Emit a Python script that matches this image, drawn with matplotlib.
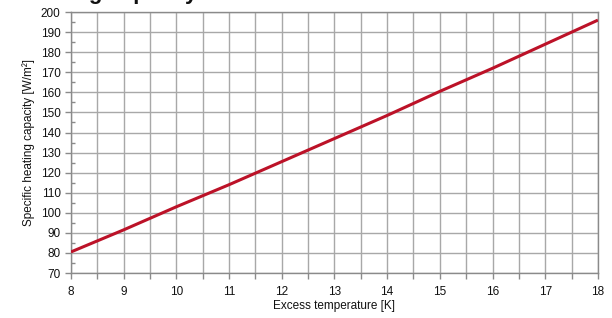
import numpy as np
import matplotlib
matplotlib.use("Agg")
import matplotlib.pyplot as plt
from matplotlib.ticker import MultipleLocator

plt.rcParams['font.family'] = ['Liberation Sans', 'DejaVu Sans']

# values
excess_temp = [8, 9, 10, 11, 12, 13, 14, 15, 16, 17, 18]
heating_capacity = [80.5, 91.5, 103, 114, 125.5, 137, 148.5, 160.5, 172, 184, 196]

title = "Heating capacity"
x_label = "Excess temperature [K]"
y_label = "Specific heating capacity [W/m²]"

fig = plt.figure(figsize=(6.12, 3.18), dpi=100)
ax = fig.add_axes([0.116, 0.1415, 0.861, 0.8205])

ax.plot(excess_temp, heating_capacity, color="#bc1228", lw=2.2, solid_capstyle="butt", zorder=3)

ax.set_xlim(8, 18)
ax.set_ylim(70, 200)
ax.xaxis.set_major_locator(MultipleLocator(1))
ax.xaxis.set_minor_locator(MultipleLocator(0.5))
ax.yaxis.set_major_locator(MultipleLocator(10))
ax.yaxis.set_minor_locator(MultipleLocator(5))

gc = "#a8a8a8"
ax.grid(True, which="major", color=gc, lw=1.0)
ax.grid(True, which="minor", axis="x", color=gc, lw=1.0)
for s in ax.spines.values():
    s.set_color("#8a8a8a")
    s.set_linewidth(1.0)

ax.tick_params(axis="both", which="major", labelsize=8.5, colors="#8a8a8a", labelcolor="#111111", length=4, width=1)
ax.tick_params(axis="x", which="minor", length=4, width=1, colors="#8a8a8a", direction="out")
ax.tick_params(axis="y", which="minor", length=3, width=1, colors="#8a8a8a", direction="in")
ax.tick_params(axis="x", pad=5)

ax.set_xlabel(x_label, fontsize=8.5, labelpad=2, color="#111111")
ax.set_ylabel(y_label, fontsize=8.5, labelpad=4, color="#111111")

# title is cropped by the top edge in the reference
fig.text(197 / 612, 1.0 + 1.0 / 318, title, ha="right", va="baseline",
         fontsize=16, fontweight="bold", color="#111111")

fig.savefig("out.png", dpi=100)
